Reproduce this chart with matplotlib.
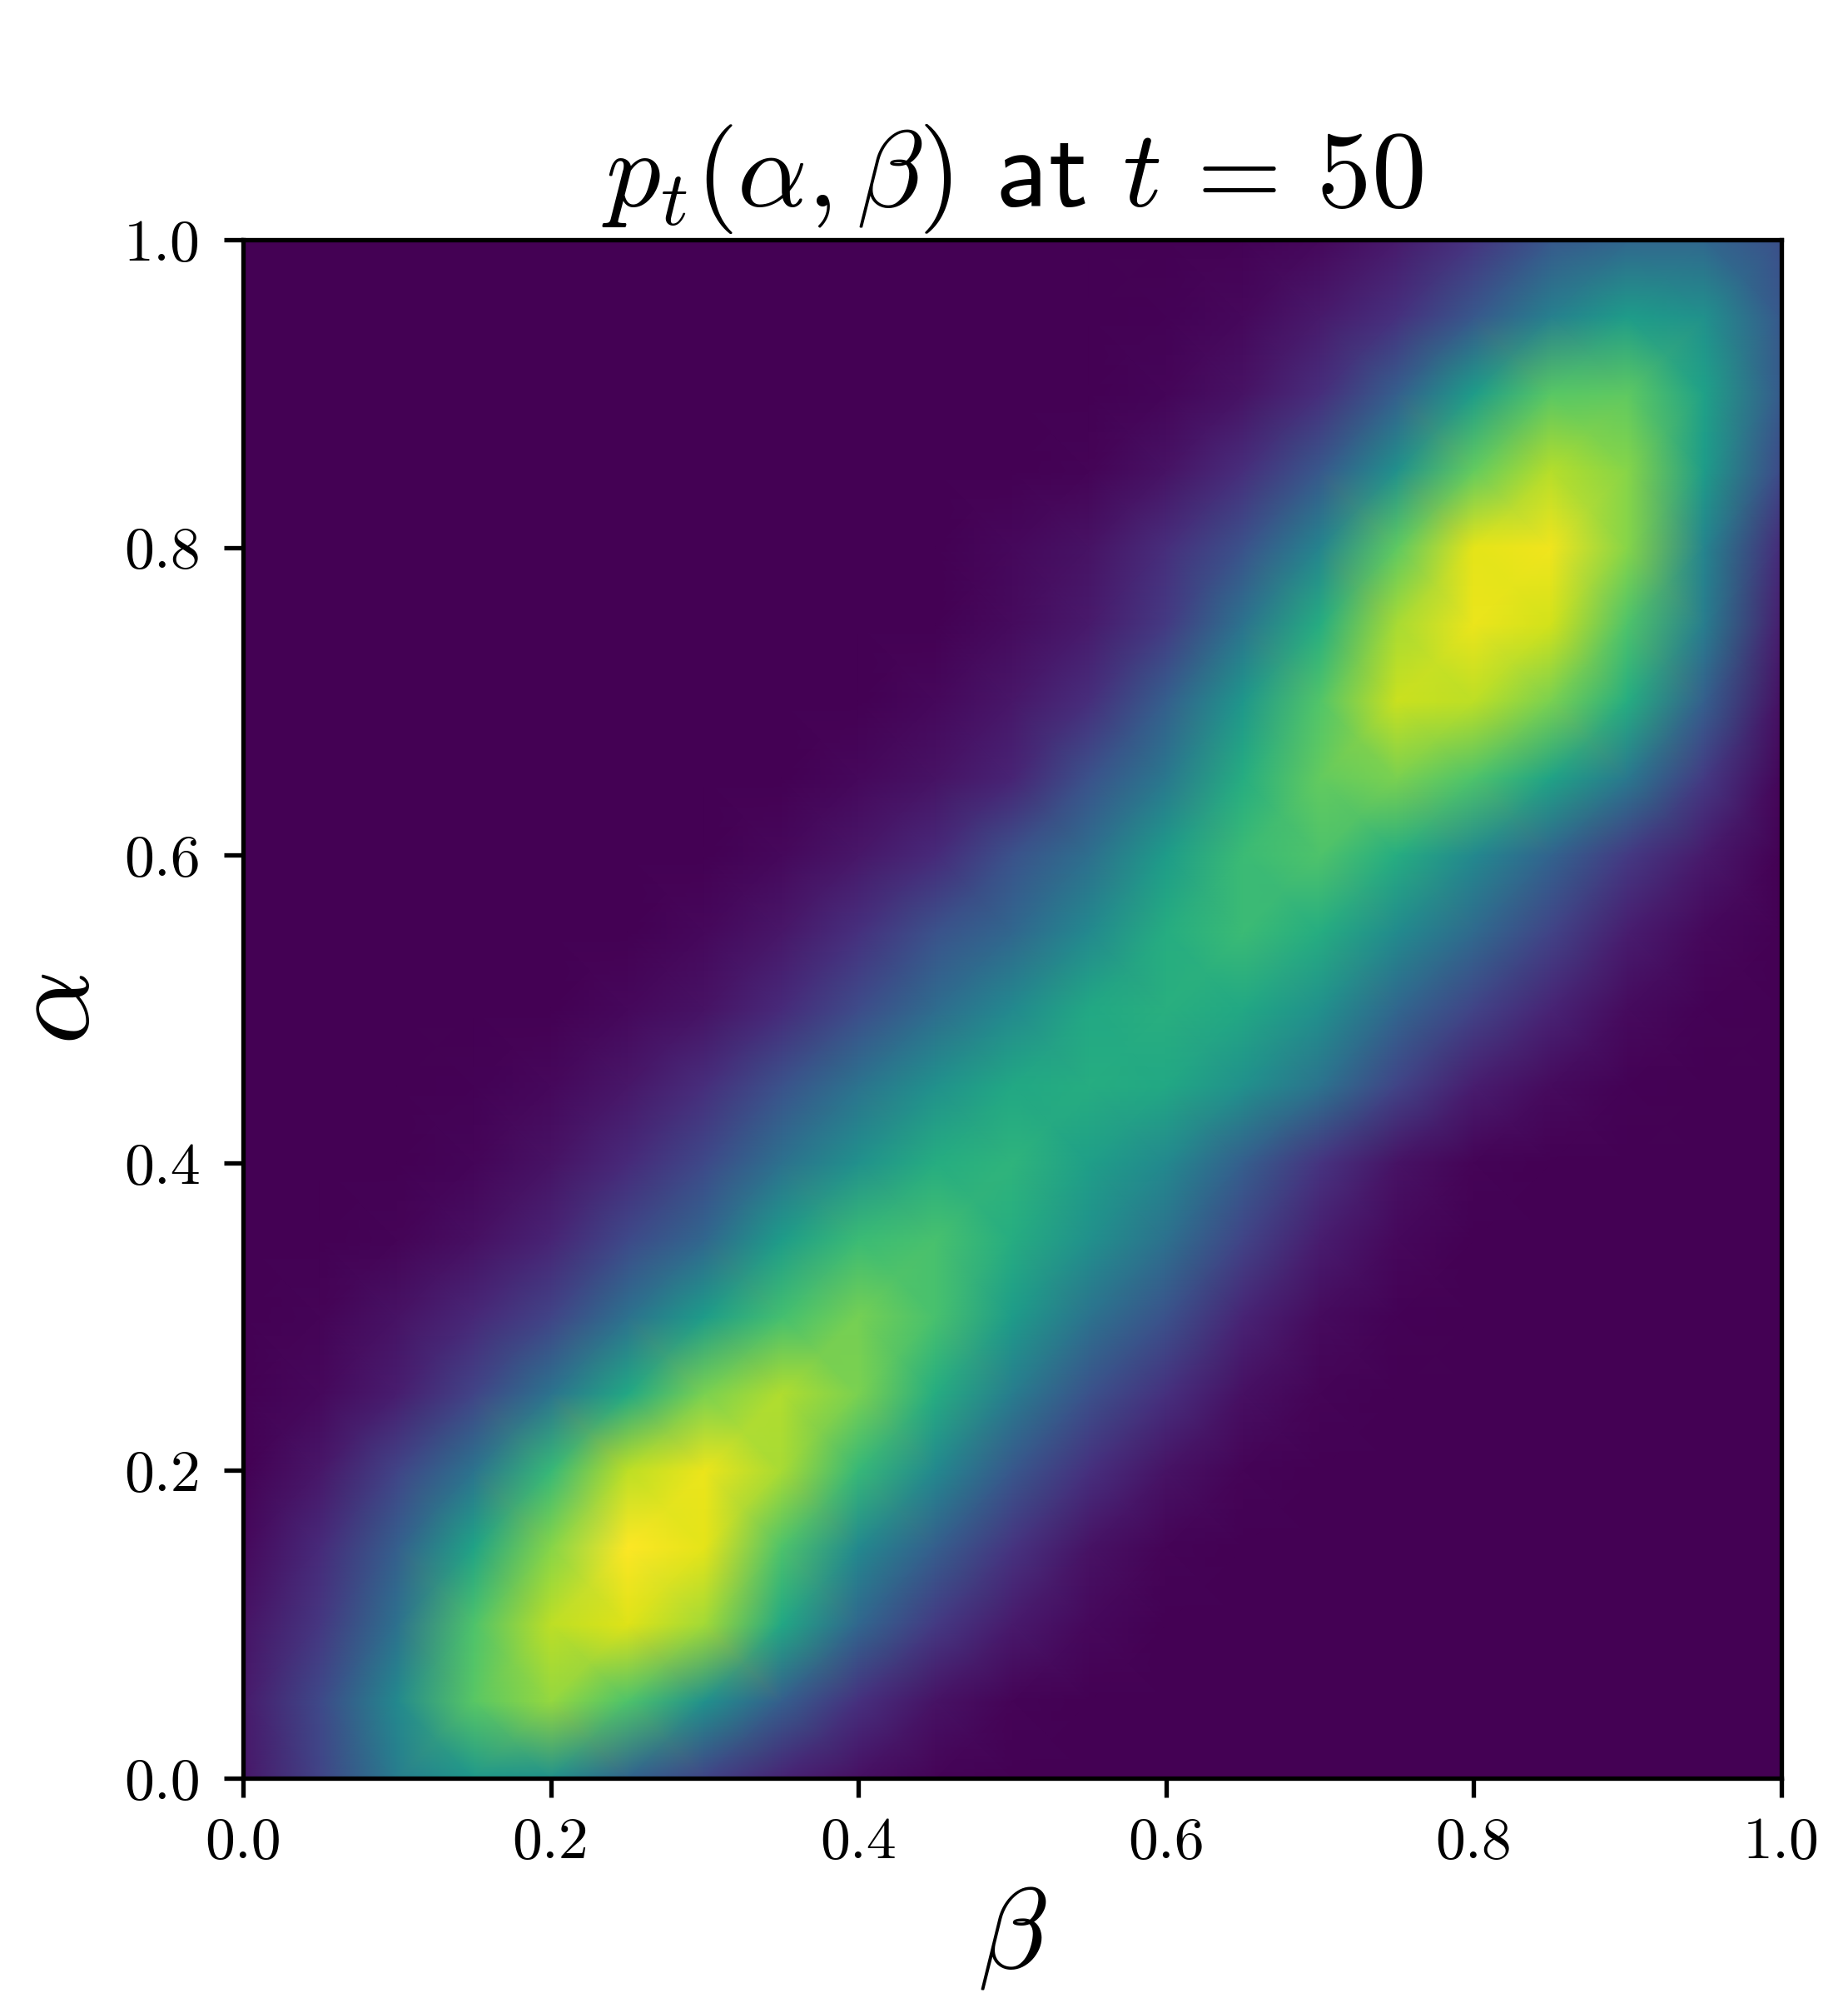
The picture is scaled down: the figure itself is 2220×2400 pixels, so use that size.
import matplotlib
matplotlib.use("Agg")
import matplotlib.pyplot as plt
import numpy as np

plt.rcParams['mathtext.fontset'] = 'cm'

# grille : pas de 0.05 en beta et en alpha
beta = [0.00, 0.05, 0.10, 0.15, 0.20, 0.25, 0.30, 0.35, 0.40, 0.45, 0.50,
        0.55, 0.60, 0.65, 0.70, 0.75, 0.80, 0.85, 0.90, 0.95, 1.00]
alpha = [0.00, 0.05, 0.10, 0.15, 0.20, 0.25, 0.30, 0.35, 0.40, 0.45, 0.50,
         0.55, 0.60, 0.65, 0.70, 0.75, 0.80, 0.85, 0.90, 0.95, 1.00]

# une ligne par alpha, de 0 a 1
densite = [
    [.06, .20, .42, .53, .50, .32, .20, .10, .04, .01, .00, .00, .00, .00, .00, .00, .00, .00, .00, .00, .00],
    [.07, .22, .47, .74, .84, .72, .50, .30, .14, .05, .01, .00, .00, .00, .00, .00, .00, .00, .00, .00, .00],
    [.05, .16, .37, .72, .90, .95, .86, .60, .33, .17, .07, .02, .00, .00, .00, .00, .00, .00, .00, .00, .00],
    [.02, .12, .30, .58, .82, 1.0, .96, .72, .47, .30, .15, .05, .01, .00, .00, .00, .00, .00, .00, .00, .00],
    [.00, .06, .20, .38, .67, .90, .97, .87, .67, .47, .27, .14, .05, .01, .00, .00, .00, .00, .00, .00, .00],
    [.00, .02, .08, .20, .38, .60, .80, .88, .80, .62, .42, .25, .14, .04, .01, .00, .00, .00, .00, .00, .00],
    [.00, .01, .05, .11, .20, .37, .55, .70, .79, .71, .55, .38, .25, .10, .03, .005, .00, .00, .00, .00, .00],
    [.00, .00, .01, .04, .10, .22, .33, .55, .68, .71, .62, .50, .37, .20, .08, .02, .00, .00, .00, .00, .00],
    [.00, .00, .00, .015, .05, .12, .22, .37, .50, .62, .65, .56, .47, .30, .15, .05, .01, .00, .00, .00, .00],
    [.00, .00, .00, .005, .02, .06, .13, .25, .38, .50, .60, .62, .60, .50, .38, .20, .08, .03, .005, .00, .00],
    [.00, .00, .00, .00, .00, .02, .05, .12, .23, .35, .47, .60, .63, .60, .50, .33, .20, .10, .03, .005, .00],
    [.00, .00, .00, .00, .00, .00, .02, .06, .14, .25, .33, .47, .62, .68, .62, .48, .34, .20, .08, .02, .00],
    [.00, .00, .00, .00, .00, .00, .00, .02, .06, .12, .25, .36, .55, .68, .72, .62, .47, .32, .17, .07, .00],
    [.00, .00, .00, .00, .00, .00, .00, .00, .02, .05, .10, .25, .40, .62, .76, .80, .72, .58, .40, .17, .015],
    [.00, .00, .00, .00, .00, .00, .00, .00, .00, .02, .06, .13, .30, .53, .73, .92, .90, .80, .62, .30, .04],
    [.00, .00, .00, .00, .00, .00, .00, .00, .00, .00, .03, .07, .17, .38, .62, .87, .97, .93, .72, .42, .08],
    [.00, .00, .00, .00, .00, .00, .00, .00, .00, .00, .02, .05, .13, .25, .45, .75, .96, .98, .82, .45, .12],
    [.00, .00, .00, .00, .00, .00, .00, .00, .00, .00, .00, .01, .05, .13, .27, .50, .76, .89, .82, .55, .22],
    [.00, .00, .00, .00, .00, .00, .00, .00, .00, .00, .00, .00, .015, .05, .13, .30, .55, .74, .75, .57, .28],
    [.00, .00, .00, .00, .00, .00, .00, .00, .00, .00, .00, .00, .005, .02, .07, .14, .27, .43, .55, .50, .27],
    [.00, .00, .00, .00, .00, .00, .00, .00, .00, .00, .00, .00, .00, .005, .02, .07, .15, .27, .33, .33, .24],
]

ticks = [0.0, 0.2, 0.4, 0.6, 0.8, 1.0]
tick_labels = ['0.0', '0.2', '0.4', '0.6', '0.8', '1.0']

fig = plt.figure(figsize=(4.625, 5))
ax = fig.add_axes([292 / 2220, 1 - 2136 / 2400, 1848 / 2220, 1848 / 2400])
ax.pcolormesh(beta, alpha, np.array(densite), shading='gouraud',
              cmap='viridis', vmin=0, vmax=1)
ax.set_xlim(0, 1)
ax.set_ylim(0, 1)
# cmr10 est livre avec matplotlib
ax.set_xticks(ticks, tick_labels, fontsize=10.8, family='cmr10')
ax.set_yticks(ticks, tick_labels, fontsize=10.8, family='cmr10')
ax.tick_params(axis='y', pad=4.2)
ax.set_xlabel(r'$\beta$', fontsize=20.5, labelpad=2)
ax.set_ylabel(r'$\alpha$', fontsize=21, labelpad=2)
ax.set_title(r'$p_t(\alpha, \beta)$ $\mathsf{at}$ $t\,=\,50$', fontsize=19.7)

fig.savefig('out.png', dpi=480)
